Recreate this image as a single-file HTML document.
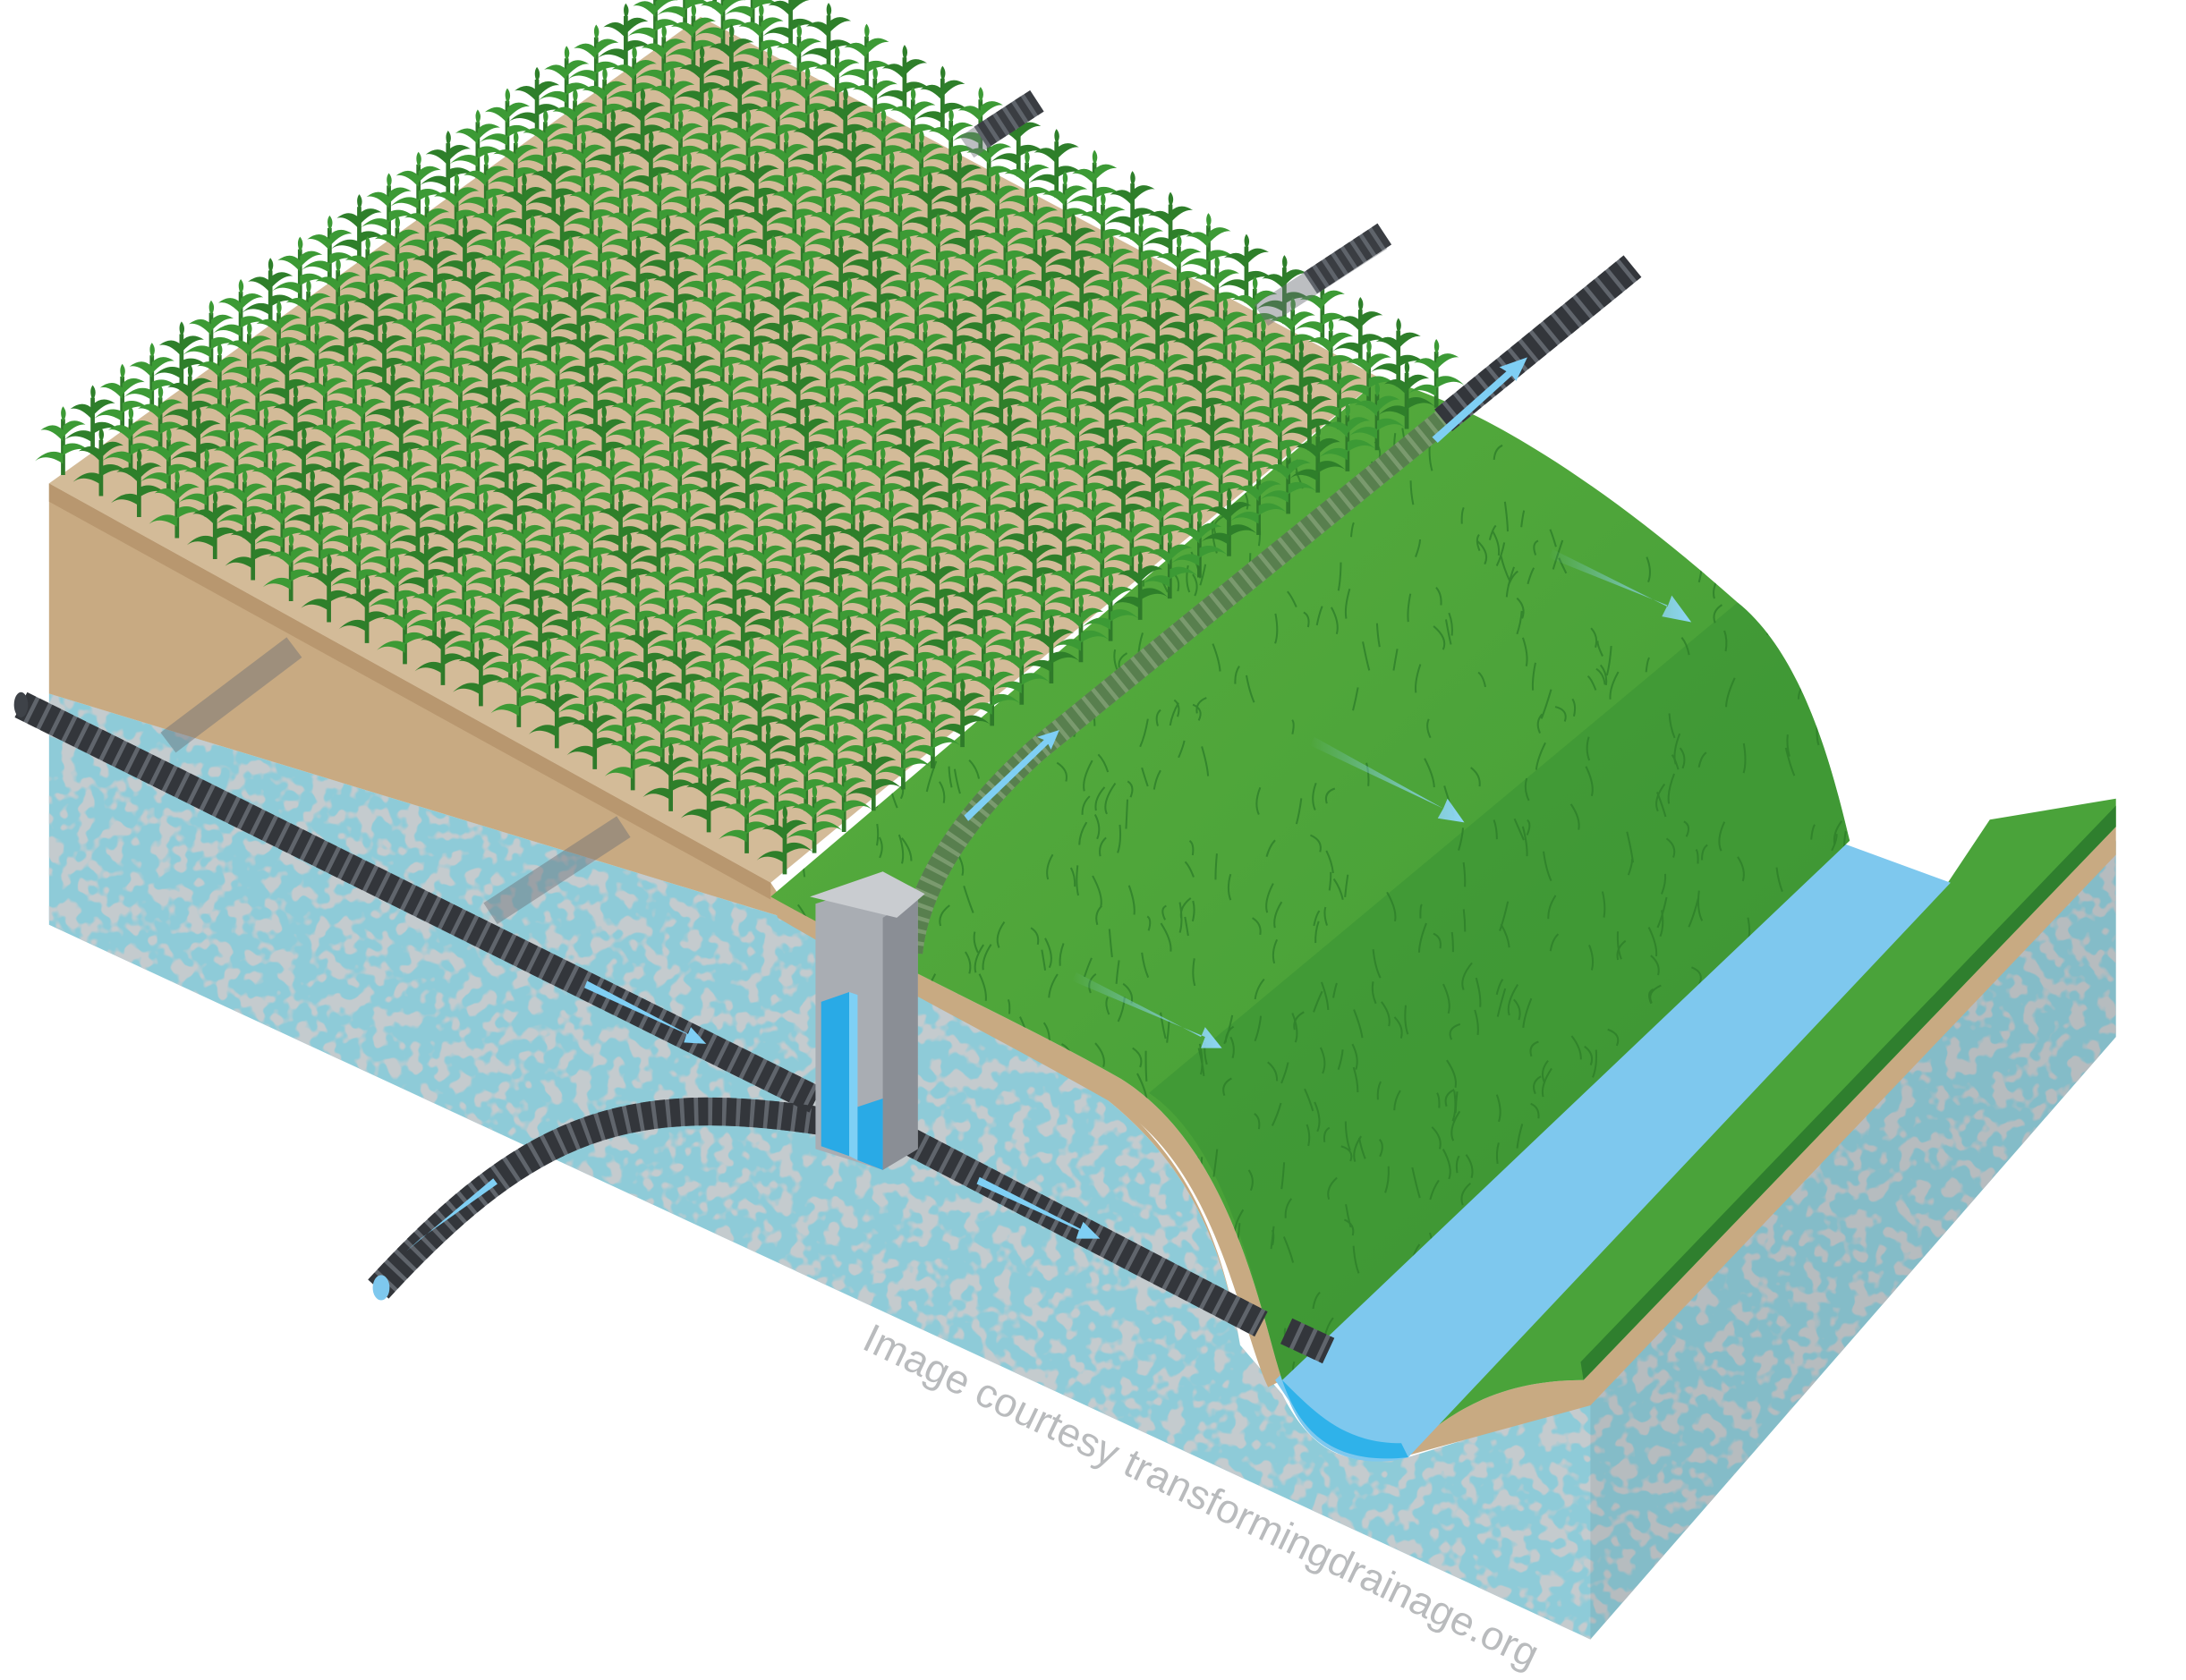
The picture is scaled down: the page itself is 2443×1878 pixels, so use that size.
<!DOCTYPE html>
<html><head><meta charset="utf-8"><style>
html,body{margin:0;padding:0;background:#fff;width:2443px;height:1878px;overflow:hidden}
svg{display:block}
</style></head><body>
<svg id="s" width="2443" height="1878" viewBox="0 0 1560 1199" preserveAspectRatio="none" xmlns="http://www.w3.org/2000/svg">
<defs>
<filter id="spk" x="0" y="0" width="100%" height="100%">
<feTurbulence type="fractalNoise" baseFrequency="0.09" numOctaves="2" seed="3"/>
<feColorMatrix type="matrix" values="0 0 0 0 0.55  0 0 0 0 0.6  0 0 0 0 0.62  0 0 0 -10 5.0"/>
<feComposite in2="SourceGraphic" operator="in"/>
</filter>
<linearGradient id="gr" x1="0" y1="0" x2="1" y2="1">
<stop offset="0" stop-color="#5aae3e"/><stop offset="1" stop-color="#3f9a35"/></linearGradient>
<linearGradient id="ar" x1="0" y1="0" x2="1" y2="0">
<stop offset="0" stop-color="#8fd6f7" stop-opacity="0"/><stop offset="1" stop-color="#8fd6f7"/></linearGradient>
<clipPath id="gc"><path d="M550,640 L985,270 C1060,290 1150,350 1240,430 C1290,470 1310,560 1320,600 L915,985 C900,940 880,820 800,770 C730,730 640,690 550,640 Z"/></clipPath>
</defs>
<path d="M35,495 L560,655 L660,705 C790,775 860,815 885,960 L915,995 C940,1045 970,1045 1005,1040 L1135,1000 L1510,600 L1510,740 L1135,1170 L35,660 Z" fill="#8ecbd8"/>
<path d="M35,495 L560,655 L660,705 C790,775 860,815 885,960 L915,995 C940,1045 970,1045 1005,1040 L1135,1000 L1510,600 L1510,740 L1135,1170 L35,660 Z" fill="#8ecbd8" filter="url(#spk)"/>
<polygon points="1135,1000 1135,1170 1510,740 1510,600" fill="#000" opacity="0.07"/>
<path d="M35,345 L550,630 L560,645 L660,700 C790,770 860,810 885,960 L915,995 L885,960 C860,815 790,775 660,705 L560,655 L35,495 Z" fill="#c8aa82"/>
<path d="M550,640 C640,690 730,730 800,770 C880,820 900,940 915,985 L905,990 C885,950 870,830 790,785 C720,745 640,705 555,655 Z" fill="#c8aa82"/>
<path d="M1000,1040 C1040,1000 1080,985 1130,985 L1510,590 L1510,610 L1135,1003 Z" fill="#c8aa82"/>
<path d="M1000,1035 L1390,630 L1420,585 L1510,570 L1510,590 L1130,985 C1080,985 1040,1000 1000,1040 Z" fill="#4aa33a"/>
<path d="M1130,985 L1510,590 L1510,575 L1128,972 Z" fill="#2f7f2e"/>
<path d="M910,985 L1310,600 L1392,630 L1005,1040 C990,1045 940,1050 920,1000 Z" fill="#7ec8ee"/>
<path d="M915,985 C930,1030 960,1045 1005,1040 L1000,1030 C960,1030 940,1010 915,985 Z" fill="#2fb2ea"/>
<polygon points="35,345 500,12 985,270 550,630" fill="#d3bb98"/>
<polygon points="35,345 550,630 550,642 35,358" fill="#b8976f"/>
<path d="M550,640 L985,270 C1060,290 1150,350 1240,430 C1290,470 1310,560 1320,600 L915,985 C900,940 880,820 800,770 C730,730 640,690 550,640 Z" fill="url(#gr)"/>
<path d="M820,780 L1240,430 C1290,470 1310,560 1320,600 L915,985 C900,940 880,820 820,780 Z" fill="#3d9634" opacity="0.7"/>
<g id="grass" clip-path="url(#gc)" stroke="#2e7f2a" stroke-width="1.3" fill="none" opacity="0.8"></g>
<g id="corn"></g>
<g fill="none">
<g opacity="0.45" stroke-width="18">
<line x1="120" y1="530" x2="210" y2="462" stroke="#6a6f76"/>
<line x1="350" y1="652" x2="445" y2="590" stroke="#6a6f76"/>
<line x1="690" y1="105" x2="735" y2="75" stroke="#6a6f76"/>
<line x1="900" y1="225" x2="985" y2="170" stroke="#6a6f76"/>
</g>
<g stroke="#5f646b" stroke-width="18">
<line x1="740" y1="72" x2="700" y2="98"/>
<line x1="988" y1="167" x2="935" y2="202"/>
</g>
<g stroke="#3a3d42" stroke-width="18" stroke-dasharray="5 3">
<line x1="740" y1="72" x2="700" y2="98"/>
<line x1="988" y1="167" x2="935" y2="202"/>
</g>
<path d="M650,680 C655,630 690,580 740,535 L1030,300" stroke="#7a9a6e" stroke-width="17"/>
<path d="M650,680 C655,630 690,580 740,535 L1030,300" stroke="#587f4e" stroke-width="17" stroke-dasharray="6 3"/>
<g stroke="#60656c" stroke-width="20">
<line x1="1030" y1="300" x2="1165" y2="190"/>
<path d="M585,800 C450,780 380,800 270,920"/>
<line x1="15" y1="503" x2="582" y2="785"/>
<line x1="650" y1="815" x2="900" y2="945"/>
<line x1="918" y1="950" x2="948" y2="964"/>
</g>
<g stroke="#33363b" stroke-width="20" stroke-dasharray="7 3">
<line x1="1030" y1="300" x2="1165" y2="190"/>
<path d="M585,800 C450,780 380,800 270,920"/>
<line x1="15" y1="503" x2="582" y2="785"/>
<line x1="650" y1="815" x2="900" y2="945"/>
<line x1="918" y1="950" x2="948" y2="964"/>
</g>
<ellipse cx="272" cy="919" rx="6" ry="9" fill="#7ec8ee"/>
<ellipse cx="15" cy="503" rx="5" ry="9" fill="#3e4248"/>
</g>
<polygon points="582,645 635,628 655,640 655,820 630,835 582,820" fill="#a9adb3"/>
<polygon points="630,655 655,640 655,820 630,835" fill="#8a8e95"/>
<polygon points="578,640 630,622 660,638 640,655" fill="#c9ccd0"/>
<polygon points="586,715 606,708 606,825 586,818" fill="#29aae6"/>
<polygon points="606,708 612,710 612,828 606,825" fill="#7ed0f5"/>
<polygon points="612,790 630,784 630,835 612,828" fill="#29aae6"/>
<g fill="#7fcff4" stroke="none">
<polygon points="417,705 490,738 488,744 504,745 493,733 491,738 419,700"/>
<polygon points="697,845 770,878 768,884 785,884 773,872 771,877 699,840"/>
<polygon points="290,893 300,884 355,845 352,841 290,893"/>
<polygon points="688,582 745,528 740,526 756,521 750,535 748,531 691,586"/>
<polygon points="1022,312 1075,265 1070,262 1090,255 1082,272 1079,268 1026,316"/>
</g>
<polygon points="765,700 860,740 857,748 872,748 860,733 857,740 768,694" fill="url(#ar)"/>
<polygon points="935,532 1030,577 1026,584 1045,587 1033,570 1030,577 938,526" fill="url(#ar)"/>
<polygon points="1105,398 1190,432 1186,440 1207,444 1193,425 1190,433 1108,392" fill="url(#ar)"/>
<text x="0" y="0" transform="translate(614,962) rotate(25.6)" font-family="'Liberation Sans',sans-serif" font-size="29" fill="#b9bbbd">Image courtesy transformingdrainage.org</text>
</svg>
<script>
(function(){
var g=document.getElementById('corn'),L=[35,345],T=[500,12],B=[550,630];
var pts=[];
var NI=22,NJ=19;
for(var i=0;i<=NI;i++)for(var j=0;j<=NJ;j++){
var a=i/NI,b=j/NJ;
pts.push([L[0]+a*(T[0]-L[0])+b*(B[0]-L[0])+10,L[1]+a*(T[1]-L[1])+b*(B[1]-L[1])-6]);}
pts.sort(function(p,q){return p[1]-q[1]});
var s="";
pts.forEach(function(p,k){var x=p[0],y=p[1];
s+='<path d="M'+x+','+y+' L'+x+','+(y-40)+'" stroke="#2f7a2a" stroke-width="3"/>';
s+='<path d="M'+x+','+(y-8)+' q-12,-8 -20,-2 q10,-10 20,-5Z M'+x+','+(y-14)+' q12,-8 20,-2 q-10,-10 -20,-5Z M'+x+','+(y-24)+' q-9,-10 -16,-8 q9,-7 16,0Z M'+x+','+(y-27)+' q9,-10 16,-9 q-9,-6 -16,1Z M'+x+','+(y-38)+' q-3,-7 0,-11 q4,5 0,11Z" fill="'+(k%3?'#3c9a35':'#2e7f2a')+'"/>';});
g.innerHTML=s;
var gg=document.getElementById('grass'),t="",seed=7;
function r(){seed=(seed*16807)%2147483647;return seed/2147483647;}
for(var n=0;n<700;n++){
var x=550+r()*780,y=270+r()*720;
t+='<path d="M'+x+','+y+' q'+(r()*8-4)+',-8 '+(r()*14-7)+',-'+(10+r()*12)+'"/>';}
gg.innerHTML=t;
})();
</script>
</body></html>
